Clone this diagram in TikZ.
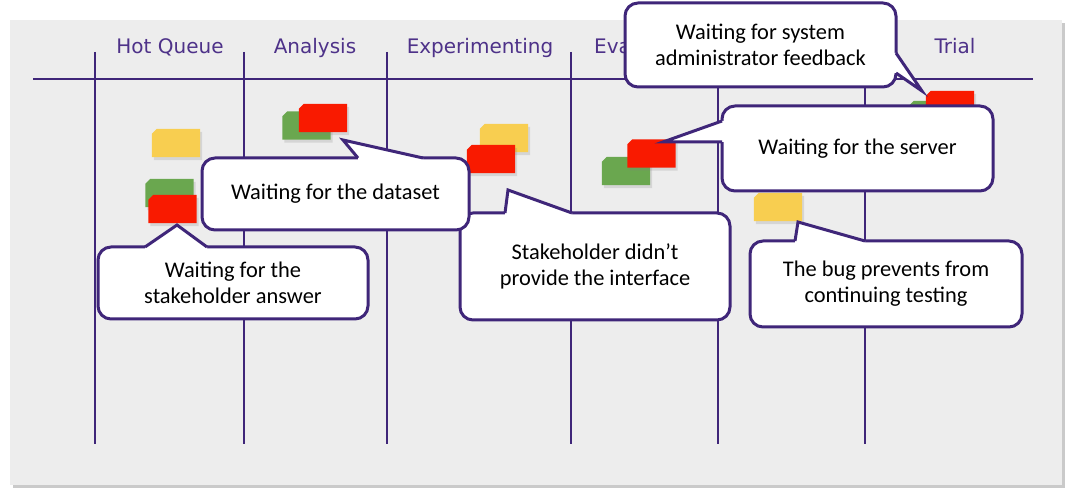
\documentclass[tikz,border=0pt]{standalone}
\usepackage{fontspec}
\setmainfont{Carlito}
\newfontfamily\headfont{DejaVu Sans}
\usetikzlibrary{shadows}
\definecolor{panel}{HTML}{EDEDED}
\definecolor{purp}{HTML}{3F2679}
\definecolor{headc}{HTML}{4E3289}
\definecolor{sy}{HTML}{F8CE50}
\definecolor{sg}{HTML}{6AA74F}
\definecolor{sr}{HTML}{F91A00}
\newcommand\stickynote[4]{%
  \node[stickybox] (#1) at (#3,#4) {};
  \fill[#2,stickyshadow] ([xshift=5pt]#1.north west) -- (#1.north east) -- (#1.south east)
    -- (#1.south west) -- ([yshift=-5pt]#1.north west) -- cycle;}
\begin{document}
\begin{tikzpicture}[x=1pt,y=-1pt,
  gridline/.style={draw=purp,line width=2pt},
  header/.style={text=headc,font=\headfont\fontsize{20}{24}\selectfont,inner sep=0pt,anchor=base},
  stickybox/.style={minimum width=48pt,minimum height=28pt,inner sep=0pt},
  stickyshadow/.style={drop shadow={shadow xshift=2pt,shadow yshift=-3pt,opacity=0.22}},
  callout/.style={draw=purp,line width=3pt,fill=white,rounded corners=13pt,align=center,
    font=\fontsize{22.4}{26}\selectfont,inner sep=0pt},
  pointerfill/.style={fill=white},
  pointerline/.style={draw=purp,line width=3pt,line join=miter}]
\useasboundingbox (0,0) rectangle (1072,497);
% panel
\path[fill=panel,drop shadow={shadow xshift=3pt,shadow yshift=-3pt,opacity=0.35,fill=black!60}] (10,20) rectangle (1062,485);
% grid
\draw[gridline,line width=2.6pt] (33,79) -- (1033,79);
\foreach \x in {95,244,387,571,718,865} \draw[gridline] (\x,52) -- (\x,444);
% headers
\node[header] (hq) at (170,54) {Hot Queue};
\node[header] (an) at (315,54) {Analysis};
\node[header] (ex) at (480,54) {Experimenting};
\node[header,anchor=base west] (ev) at (594,54) {Eva};
\node[header] (tr) at (955,54) {Trial};
% stickies
\stickynote{hqy}{sy}{176}{143}
\stickynote{hqg}{sg}{169.5}{193}
\stickynote{hqr}{sr}{172.5}{209}
\stickynote{ang}{sg}{306.5}{125.5}
\stickynote{anr}{sr}{323}{118}
\stickynote{exy}{sy}{504}{138}
\stickynote{exr}{sr}{491}{159}
\stickynote{evg}{sg}{626}{171}
\stickynote{evr}{sr}{651.5}{153.5}
\stickynote{trg}{sg}{933}{115}
\stickynote{trr}{sr}{950}{105}
\stickynote{c5y}{sy}{778}{207}
% pointer tips
\coordinate (t2) at (177,225);
\coordinate (t3) at (508,190);
\coordinate (t1) at (343,140);
\coordinate (t4) at (922,91);
\coordinate (t5) at (663,142);
\coordinate (t6) at (798,222);
% callout: stakeholder answer
\node[callout,minimum width=270pt,minimum height=72pt] (b2) at (233,283) {Waiting for the\\stakeholder answer};
\fill[pointerfill] (145,249.5) -- (145,247) -- (t2) -- (207,247) -- (207,249.5) -- cycle;
\draw[pointerline] (145,247) -- (t2) -- (207,247);
% callout: interface
\node[callout,minimum width=270pt,minimum height=107pt] (b3) at (595,266.5) {Stakeholder didn’t\\provide the interface};
\fill[pointerfill] (505,215.5) -- (505,213) -- (t3) -- (572,213) -- (572,215.5) -- cycle;
\draw[pointerline] (505,213) -- (t3) -- (572,213);
% callout: dataset
\node[callout,minimum width=267pt,minimum height=72pt] (b1) at (335.5,194) {Waiting for the dataset};
\fill[pointerfill] (358,160.5) -- (358,158) -- (t1) -- (423,158) -- (423,160.5) -- cycle;
\draw[pointerline] (358,158) -- (t1) -- (423,158);
% callout: sysadmin
\node[callout,minimum width=271pt,minimum height=84pt] (b4) at (760.5,45) {Waiting for system\\administrator feedback};
\fill[pointerfill] (893.5,53) -- (896,53) -- (t4) -- (896,73) -- (893.5,73) -- cycle;
\draw[pointerline] (896,53) -- (t4) -- (896,73);
% callout: server
\node[callout,minimum width=271pt,minimum height=85pt] (b5) at (857.5,148.5) {Waiting for the server};
\fill[pointerfill] (724.5,121) -- (722,121) -- (t5) -- (722,142) -- (724.5,142) -- cycle;
\draw[pointerline] (722,121) -- (t5) -- (722,142);
% callout: bug
\node[callout,minimum width=272pt,minimum height=86pt] (b6) at (886,284) {The bug prevents from\\continuing testing};
\fill[pointerfill] (795,243.5) -- (795,241) -- (t6) -- (865,241) -- (865,243.5) -- cycle;
\draw[pointerline] (795,241) -- (t6) -- (865,241);
\end{tikzpicture}
\end{document}
